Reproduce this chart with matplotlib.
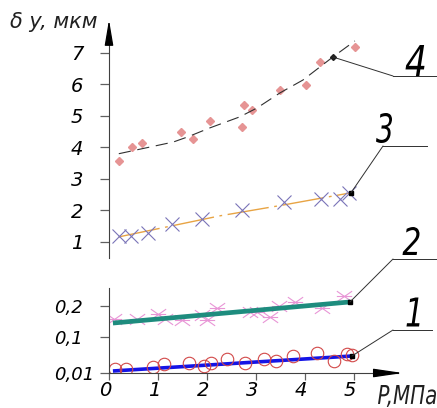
import numpy as np
import matplotlib
matplotlib.use("Agg")
import matplotlib.pyplot as plt
from matplotlib.path import Path
from matplotlib.lines import Line2D
from matplotlib.patches import PathPatch
from matplotlib.textpath import TextPath
from matplotlib.font_manager import FontProperties
from matplotlib.transforms import ScaledTranslation, Affine2D

plt.rcParams['font.family'] = ['Liberation Sans Narrow', 'DejaVu Sans']
plt.rcParams['font.style'] = 'italic'

# ---- data ----
# curve 4 : pink diamonds + dashed fit
P4     = [0.20, 0.47, 0.67, 1.47, 1.71, 2.06, 2.71, 2.76, 2.92, 3.49, 4.02, 4.31, 5.02]
D4     = [3.57, 4.02, 4.14, 4.49, 4.27, 4.84, 4.65, 5.35, 5.19, 5.83, 5.98, 6.71, 7.19]
P4_fit = [0.20, 1.31, 1.60, 2.06, 2.67, 3.02, 3.49, 3.96, 4.57, 5.02]
D4_fit = [3.80, 4.17, 4.33, 4.62, 4.97, 5.25, 5.73, 6.14, 6.87, 7.38]
P4_end, D4_end = 4.57, 6.87

# curve 3 : crosses + dash-dot fit
P3     = [0.20, 0.45, 0.80, 1.29, 1.90, 2.71, 3.57, 4.33, 4.71, 4.90]
D3     = [1.19, 1.19, 1.29, 1.57, 1.73, 2.02, 2.27, 2.37, 2.37, 2.56]
P3_fit = [0.20, 2.27, 3.55, 4.94]
D3_fit = [1.16, 1.83, 2.17, 2.56]

# curve 2 : asterisks + thick teal line
P2     = [0.10, 0.57, 1.00, 1.14, 1.49, 1.90, 2.00, 2.20, 2.88, 3.02, 3.29, 3.47, 3.80, 4.35, 4.80]
D2     = [0.158, 0.158, 0.174, 0.158, 0.155, 0.171, 0.155, 0.194, 0.181, 0.181, 0.165, 0.200, 0.213, 0.194, 0.232]
P2_fit = [0.08, 4.92]
D2_fit = [0.145, 0.213]

# curve 1 : circles + thick blue line
P1     = [0.12, 0.35, 0.90, 1.12, 1.63, 1.94, 2.08, 2.41, 2.78, 3.16, 3.41, 3.76, 4.24, 4.59, 4.86, 4.96]
D1     = [0.020, 0.020, 0.025, 0.0325, 0.035, 0.0275, 0.035, 0.045, 0.035, 0.045, 0.040, 0.0525, 0.060, 0.040, 0.0575, 0.055]
P1_fit = [0.08, 4.96]
D1_fit = [0.015, 0.0525]

upper_ticks = [1, 2, 3, 4, 5, 6, 7]
lower_ticks = [0.01, 0.1, 0.2]
lower_labels = ['0,01', '0,1', '0,2']
x_ticks = [0, 1, 2, 3, 4, 5]

W, H = 437, 408
fig = plt.figure(figsize=(W / 100, H / 100), dpi=100)

def fx(px):
    return px / W

def fy(py):
    return 1 - py / H

axc = '#404040'

# narrow (drafting style) text, fitted into a box given in pixels
def narrow_text(s, cx, cy, w, h, color='black', align='center'):
    tp = TextPath((0, 0), s, size=20, prop=FontProperties(family=['DejaVu Sans'], style='italic'))
    bb = tp.get_extents()
    tr = Affine2D().translate(-bb.x0, -bb.y0).scale(w / bb.width, h / bb.height)
    if align == 'center':
        tr = tr.translate(cx - w / 2, H - cy - h / 2)
    else:
        tr = tr.translate(cx, H - cy - h / 2)
    fig.add_artist(PathPatch(tp, transform=tr, color=color, lw=0))

# upper panel (curves 3, 4)
ax1 = fig.add_axes([fx(109), fy(258), 289 / W, (258 - 34) / H])
ax1.set_xlim(0, 5.9)
ax1.set_ylim(0.49, 7.6)
for s in ['top', 'right', 'bottom']:
    ax1.spines[s].set_visible(False)
ax1.spines['left'].set_color(axc)
ax1.set_xticks([])
ax1.set_yticks(upper_ticks)
ax1.set_yticklabels([str(t) for t in upper_ticks])
ax1.tick_params(axis='y', length=6.5, width=0.9, color='#606060', pad=12, labelsize=14)
ax1.patch.set_visible(False)

ax1.plot(P4, D4, ls='none', marker='D', ms=3.8, color='#e69494', mec='#e69494')
ax1.plot(P4_fit, D4_fit, color='#303030', lw=0.8, dashes=(11, 6))
ax1.plot([P4_end], [D4_end], marker='D', ms=3, color='#202020')

ax1.plot(P3_fit, D3_fit, color='#e8a444', lw=1.0, dashes=(30, 4, 2, 4))
ax1.plot(P3, D3, ls='none', marker='x', ms=10, mew=0.8, color='#7a74b8')
ax1.plot([P3_fit[-1]], [D3_fit[-1]], marker='s', ms=3.5, color='black')

# axis arrow
ax1.annotate('', xy=(0, 8.05), xytext=(0, 7.4), annotation_clip=False,
             arrowprops=dict(arrowstyle='-|>,head_length=1.3,head_width=0.22',
                             color='black', lw=0.9, mutation_scale=12, shrinkA=0, shrinkB=0))

# lower panel (curves 1, 2) with stretched scale
def fwd(v):
    v = np.asarray(v, dtype=float)
    return np.where(v <= 0.1, (v - 0.01) * 400.0, 36 + (v - 0.1) * 310.0)

def inv(p):
    p = np.asarray(p, dtype=float)
    return np.where(p <= 36, p / 400.0 + 0.01, 0.1 + (p - 36) / 310.0)

ax2 = fig.add_axes([fx(109), fy(373), 289 / W, 85 / H])
ax2.set_yscale('function', functions=(fwd, inv))
ax2.set_xlim(0, 5.9)
ax2.set_ylim(0.01, 0.258)
for s in ['top', 'right']:
    ax2.spines[s].set_visible(False)
ax2.spines['left'].set_color(axc)
ax2.spines['bottom'].set_color(axc)
ax2.set_yticks(lower_ticks)
ax2.set_yticklabels(lower_labels)
ax2.yaxis.set_minor_locator(matplotlib.ticker.NullLocator())
ax2.set_xticks(x_ticks)
ax2.set_xticklabels([str(t) for t in x_ticks])
ax2.tick_params(axis='y', length=6.5, width=0.9, color='#606060', pad=12, labelsize=13)
ax2.tick_params(axis='x', length=5, width=0.9, color='#606060', pad=1, labelsize=14)
ax2.patch.set_visible(False)

ax2.plot(P2, D2, ls='none', marker=Path([(-1, -0.7), (1, 0.7), (-1, 0.7), (1, -0.7), (-1, 0), (1, 0)],
                                       [1, 2, 1, 2, 1, 2]),
         ms=11, mew=0.8, color='#e896d6', mfc='none')
ax2.plot(P2_fit, D2_fit, color='#1e8c7e', lw=3.4, solid_capstyle='butt')
ax2.plot([P2_fit[-1]], [D2_fit[-1]], marker='s', ms=3.5, color='black')

ax2.plot(P1_fit, D1_fit, color='#1414e6', lw=2.6, solid_capstyle='butt')
ax2.plot(P1, D1, ls='none', marker='o', ms=9, mew=0.8, mfc='none', mec='#d24848')
ax2.plot([P1_fit[-1]], [D1_fit[-1]], marker='s', ms=3.5, color='black')

ax2.annotate('', xy=(6.0, 0.01), xytext=(5.6, 0.01), annotation_clip=False,
             arrowprops=dict(arrowstyle='-|>,head_length=1.5,head_width=0.22',
                             color='black', lw=0.9, mutation_scale=12, shrinkA=0, shrinkB=0))

# nudge tick labels a bit like the drawing
fig.canvas.draw()
t0 = ax2.yaxis.get_major_ticks()[0]
t0.label1.set_transform(t0.label1.get_transform() + ScaledTranslation(0.11, 0, fig.dpi_scale_trans))
for t in ax2.xaxis.get_major_ticks():
    t.label1.set_transform(t.label1.get_transform() + ScaledTranslation(-0.04, 0, fig.dpi_scale_trans))

# leader lines with curve numbers (label box: centre x, centre y, width, height in px)
leaders = [
    (ax1, (P4_end, D4_end), (393, 76), 437, '4', (415, 61, 19, 32)),
    (ax1, (P3_fit[-1], D3_fit[-1]), (383, 146), 427, '3', (384, 128, 16, 30)),
    (ax2, (P2_fit[-1], D2_fit[-1]), (393, 259), 437, '2', (411, 241, 17, 28)),
    (ax2, (P1_fit[-1], D1_fit[-1]), (393, 330), 432, '1', (413, 312, 13, 29)),
]
for ax, xy, knee, xend, lab, box in leaders:
    ax.annotate('', xy=xy, xycoords='data', xytext=(fx(knee[0]), fy(knee[1])),
                textcoords='figure fraction', annotation_clip=False,
                arrowprops=dict(arrowstyle='-', color='#303030', lw=0.7, shrinkA=0, shrinkB=0))
    fig.add_artist(Line2D([fx(knee[0]), fx(xend)], [fy(knee[1]), fy(knee[1])],
                          color='#303030', lw=0.7))
    narrow_text(lab, box[0], box[1], box[2], box[3])

# axis titles
fig.text(fx(10), fy(22), 'δ y, мкм', fontsize=15, ha='left', va='center', color='#202020')
narrow_text('P,МПа', 378, 396, 58, 22, color='#202020', align='left')

fig.savefig('out.png', dpi=100)
